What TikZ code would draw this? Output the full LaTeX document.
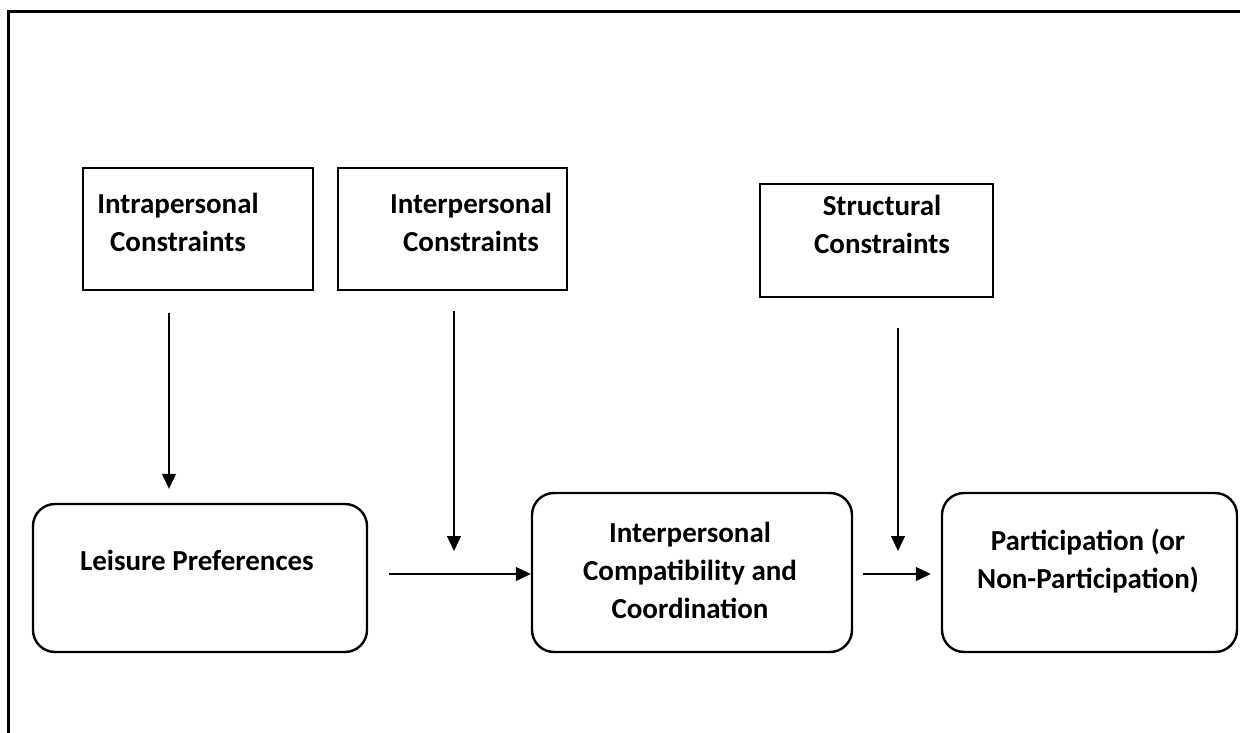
\documentclass[tikz,border=0pt]{standalone}
\usepackage{fontspec}
\setmainfont{Carlito}
\usetikzlibrary{arrows.meta}
\begin{document}
\begin{tikzpicture}[x=1pt,y=-1pt,
  sqbox/.style={draw, line width=2.4pt, rectangle, inner sep=0pt},
  rbox/.style={draw, line width=2.4pt, rectangle, rounded corners=22pt, inner sep=0pt},
  lbl/.style={align=center, font=\fontsize{29}{38}\selectfont\bfseries, inner sep=0pt},
  arr/.style={line width=1.3pt, -{Triangle[length=15pt,width=14pt]}},
  frame/.style={line width=3pt}
]
\useasboundingbox (0,0) rectangle (1240,733);
% outer frame (left and top only)
\coordinate (ftl) at (8,12);
\coordinate (fbl) at (8,740);
\coordinate (ftr) at (1245,12);
\draw[frame] (fbl) -- (ftl) -- (ftr);

% top boxes
\node[sqbox, minimum width=230pt, minimum height=122pt] (intra) at (198,229) {};
\node[lbl] (intraT) at (178,222) {Intrapersonal\\Constraints};
\node[sqbox, minimum width=229pt, minimum height=122pt] (inter) at (452.5,229) {};
\node[lbl] (interT) at (471,222) {Interpersonal\\Constraints};
\node[sqbox, minimum width=233pt, minimum height=113pt] (struct) at (876.5,240.5) {};
\node[lbl] (structT) at (882,224) {Structural\\Constraints};

% bottom boxes
\node[rbox, minimum width=334pt, minimum height=148pt] (leis) at (200,578) {};
\node[lbl] (leisT) at (197,560) {Leisure Preferences};
\node[rbox, minimum width=320pt, minimum height=159pt] (comp) at (692,572.5) {};
\node[lbl] (compT) at (690,570) {Interpersonal\\Compatibility and\\Coordination};
\node[rbox, minimum width=295pt, minimum height=159pt] (part) at (1089.5,572.5) {};
\node[lbl] (partT) at (1088,561) {Participation (or\\Non-Participation)};

% arrow anchor coordinates
\coordinate (a1) at (169,0);
\coordinate (a2) at (454,0);
\coordinate (a3) at (898,0);
\coordinate (a2e) at (454,551);
\coordinate (a3e) at (898,551);
\coordinate (h1) at (0,574);

\draw[arr, shorten <=22pt, shorten >=14pt] (intra.south -| a1) -- (leis.north -| a1);
\draw[arr, shorten <=20pt] (inter.south -| a2) -- (a2e);
\draw[arr, shorten <=30pt] (struct.south -| a3) -- (a3e);
\draw[arr, shorten <=21pt] (leis.east |- h1) -- (comp.west |- h1);
\draw[arr, shorten <=10pt, shorten >=10pt] (comp.east |- h1) -- (part.west |- h1);
\end{tikzpicture}
\end{document}
